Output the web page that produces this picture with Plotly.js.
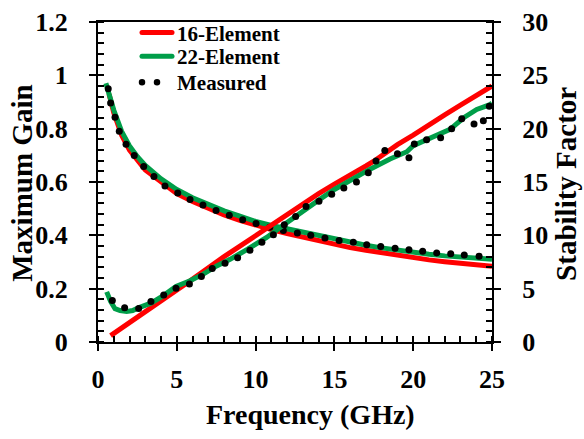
<!DOCTYPE html>
<html>
<head>
<meta charset="utf-8">
<script src="https://cdn.plot.ly/plotly-3.0.1.min.js"></script>
<style>
html,body{margin:0;padding:0;background:#fff;}
.legendlines path, .legend path.js-line { stroke-linecap: round; }
</style>
</head>
<body>
<div id="chart" style="width:584px;height:439px;"></div>
<script>
// 16-Element: Maximum Gain (left axis)
var freq16Gain = [0.7, 1, 1.5, 2, 3, 4, 5, 6, 7, 8, 9, 10, 11, 12, 13, 14, 15, 16, 17, 18, 19, 20, 21, 22, 23, 24, 25];
var gain16 = [0.93, 0.86, 0.775, 0.72, 0.645, 0.598, 0.556, 0.527, 0.5, 0.477, 0.456, 0.438, 0.422, 0.407, 0.393, 0.38, 0.366, 0.354, 0.344, 0.334, 0.325, 0.316, 0.308, 0.301, 0.295, 0.289, 0.284];
// 22-Element: Maximum Gain
var freq22Gain = [0.5, 0.8, 1.0, 1.5, 2, 2.5, 3, 4, 5, 6, 7, 8, 9, 10, 11, 12, 13, 14, 15, 16, 17, 18, 19, 20, 21, 22, 23, 24, 25];
var gain22 = [0.97, 0.905, 0.87, 0.79, 0.735, 0.695, 0.662, 0.612, 0.572, 0.541, 0.515, 0.492, 0.472, 0.452, 0.437, 0.424, 0.411, 0.399, 0.388, 0.374, 0.363, 0.353, 0.344, 0.336, 0.329, 0.323, 0.318, 0.314, 0.31];
// 16-Element: Stability Factor (right axis)
var freq16Stab = [0.8, 2, 4, 6, 8, 10, 12, 13, 14, 15, 16, 17, 17.5, 18, 19, 20, 21, 22, 23, 24, 25];
var stab16 = [0.6, 1.8, 3.8, 5.9, 8.0, 10.0, 12.0, 12.9, 13.9, 14.8, 15.6, 16.5, 16.95, 17.5, 18.5, 19.4, 20.4, 21.3, 22.2, 23.1, 24.0];
// 22-Element: Stability Factor
var freq22Stab = [0.55, 0.8, 1.08, 1.4, 1.82, 2.2, 2.56, 3, 3.36, 4.15, 4.95, 5.84, 6.68, 7.53, 8.38, 9.5, 10.7, 12, 13, 14, 15, 16, 17.26, 18.53, 19.6, 20, 21.07, 22.34, 23.18, 24.03, 24.87, 25];
var stab22 = [4.7, 3.8, 3.12, 2.95, 2.87, 2.95, 3.2, 3.4, 3.64, 4.35, 5.2, 5.74, 6.36, 7.13, 7.75, 8.7, 9.8, 11.2, 12.3, 13.3, 14.3, 15.15, 16.2, 17.16, 17.84, 18.4, 19.07, 19.94, 21.0, 21.8, 22.25, 22.4];
// Measured
var measGainX = [0.65, 0.8, 1.08, 1.35, 1.78, 2.3, 2.9, 3.55, 4.25, 5.06, 5.84, 6.66, 7.49, 8.33, 9.18, 10.03, 10.9, 11.76, 12.65, 13.5, 14.4, 15.3, 16.2, 17.05, 17.94, 18.85, 19.73, 20.6, 21.49, 22.38, 23.24, 24.18];
var measGain = [0.95, 0.896, 0.843, 0.79, 0.742, 0.699, 0.658, 0.621, 0.585, 0.559, 0.534, 0.514, 0.493, 0.475, 0.458, 0.444, 0.43, 0.418, 0.409, 0.4, 0.39, 0.381, 0.374, 0.365, 0.358, 0.352, 0.346, 0.34, 0.334, 0.331, 0.326, 0.322];
var measStabX = [0.91, 1.69, 2.58, 3.36, 4.17, 4.95, 5.8, 6.56, 7.25, 8.06, 8.86, 9.64, 10.4, 11.13, 11.82, 12.54, 13.2, 14.02, 14.83, 15.6, 16.4, 17.15, 17.64, 18.2, 19.0, 19.73, 20.07, 20.85, 21.74, 22.44, 23.08, 23.86, 24.45, 24.83];
var measStab = [3.89, 3.2, 3.15, 3.8, 4.41, 5.03, 5.43, 6.14, 6.9, 7.38, 7.9, 8.6, 9.35, 10.06, 11.0, 11.76, 12.7, 13.2, 13.86, 14.44, 15.0, 15.86, 16.97, 17.95, 17.65, 17.27, 18.57, 18.97, 19.15, 20.0, 20.92, 20.43, 20.75, 22.1];

var seriesNames = ['16-Element', '22-Element', 'Measured'];
var xTitle = 'Frequency (GHz)';
var yTitle = 'Maximum Gain';
var y2Title = 'Stability Factor';

var RED = '#FF0000', GREEN = '#009E49', BLACK = '#000000';
var FONT = 'Liberation Serif, Times New Roman, serif';

var traces = [
  {x: freq16Gain, y: gain16, mode: 'lines', line: {color: RED, width: 5}, name: seriesNames[0], legend: 'legend'},
  {x: freq16Stab, y: stab16, yaxis: 'y2', mode: 'lines', line: {color: RED, width: 5}, showlegend: false},
  {x: freq22Gain, y: gain22, mode: 'lines', line: {color: GREEN, width: 5}, name: seriesNames[1], legend: 'legend2'},
  {x: freq22Stab, y: stab22, yaxis: 'y2', mode: 'lines', line: {color: GREEN, width: 5}, showlegend: false},
  {x: measGainX, y: measGain, mode: 'markers', marker: {color: BLACK, size: 7}, showlegend: false},
  {x: measStabX, y: measStab, yaxis: 'y2', mode: 'markers', marker: {color: BLACK, size: 7}, showlegend: false},
  {x: [null], y: [null], mode: 'lines', line: {color: BLACK, width: 6.5, dash: '0px,15px'}, name: seriesNames[2], legend: 'legend3'}
];

function axisBase() {
  return {
    showgrid: false, zeroline: false, showline: true, linecolor: BLACK, linewidth: 2,
    ticks: 'outside', ticklen: 7, tickwidth: 2, tickcolor: BLACK,
    tickfont: {family: FONT, size: 26, color: BLACK, weight: 'bold'},
    fixedrange: true
  };
}
var xa = axisBase();
Object.assign(xa, {range: [0, 25], dtick: 5, tick0: 0, mirror: true, ticklabelstandoff: 6,
  minor: {dtick: 1, ticks: 'inside', ticklen: 6, tickwidth: 2, tickcolor: BLACK, showgrid: false}});
var ya = axisBase();
Object.assign(ya, {range: [0, 1.2], dtick: 0.2, tick0: 0, ticklabelstandoff: 16,
  minor: {dtick: 0.04, ticks: 'inside', ticklen: 6, tickwidth: 2, tickcolor: BLACK, showgrid: false}});
var ya2 = axisBase();
Object.assign(ya2, {range: [0, 30], dtick: 5, tick0: 0, overlaying: 'y', side: 'right', ticklabelstandoff: 16,
  minor: {dtick: 1, ticks: 'inside', ticklen: 6, tickwidth: 2, tickcolor: BLACK, showgrid: false}});

function leg(y) {
  return {x: 0.099, y: y, xanchor: 'left', yanchor: 'middle', bgcolor: 'rgba(0,0,0,0)', borderwidth: 0,
    font: {family: FONT, size: 21, color: BLACK, weight: 'bold'}};
}

var layout = {
  width: 584, height: 439,
  margin: {l: 98, r: 92, t: 18, b: 97, pad: 0},
  paper_bgcolor: '#fff', plot_bgcolor: '#fff',
  font: {family: FONT, color: BLACK, weight: 'bold'},
  showlegend: true,
  xaxis: xa, yaxis: ya, yaxis2: ya2,
  legend: leg(0.966), legend2: leg(0.892), legend3: leg(0.811),
  annotations: [
    {text: xTitle, xref: 'paper', yref: 'paper', x: 0.5406, y: -0.226, xanchor: 'center', yanchor: 'middle', showarrow: false,
     font: {family: FONT, size: 28, color: BLACK, weight: 'bold'}},
    {text: yTitle, xref: 'paper', yref: 'paper', x: -0.195, y: 0.495, xanchor: 'center', yanchor: 'middle', showarrow: false, textangle: -90,
     font: {family: FONT, size: 29, color: BLACK, weight: 'bold'}},
    {text: y2Title, xref: 'paper', yref: 'paper', x: 1.186, y: 0.495, xanchor: 'center', yanchor: 'middle', showarrow: false, textangle: -90,
     font: {family: FONT, size: 29, color: BLACK, weight: 'bold'}}
  ]
};

Plotly.newPlot('chart', traces, layout, {displayModeBar: false, staticPlot: true});
</script>
</body>
</html>
